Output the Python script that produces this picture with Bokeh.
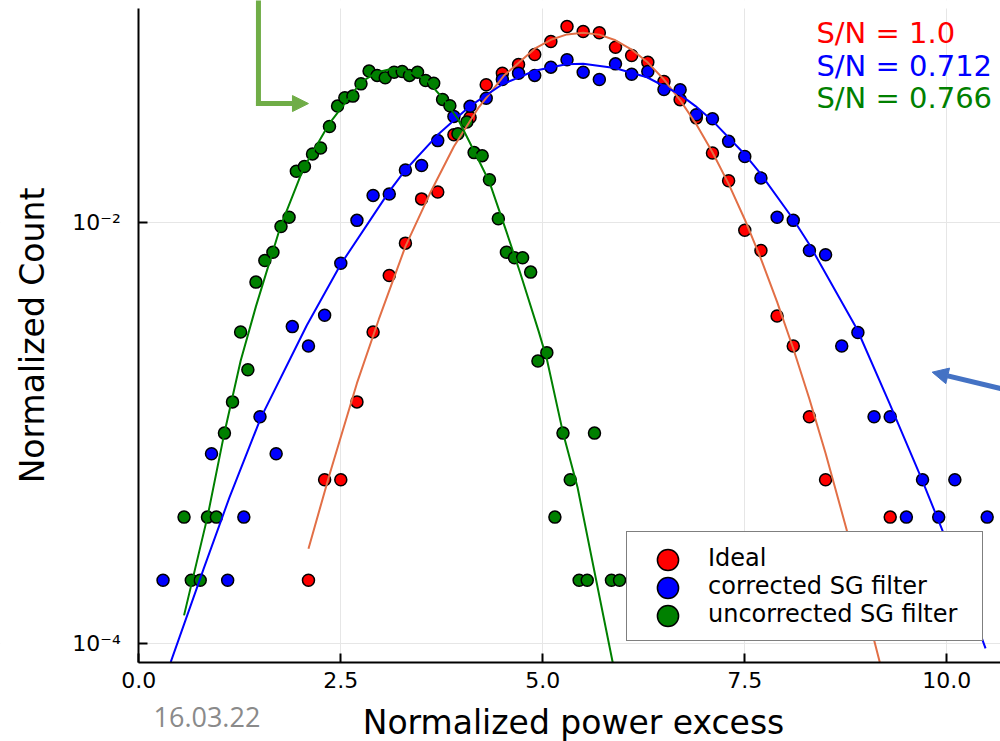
import math
from bokeh.plotting import figure
from bokeh.models import (FixedTicker, CustomJSTickFormatter, NumeralTickFormatter,
                          Legend, LegendItem, Label, Arrow, NormalHead, Range1d, BoxAnnotation)
from bokeh.embed import file_html
from bokeh.resources import INLINE

# ---------------- data ----------------
ideal_x = [2.1, 2.3, 2.5, 2.7, 2.9, 3.1, 3.3, 3.5, 3.7, 3.9, 4.1, 4.3, 4.5, 4.7, 4.9, 5.1,
           5.3, 5.5, 5.7, 5.9, 6.1, 6.3, 6.5, 6.7, 6.9, 7.1, 7.3, 7.5, 7.7, 7.9, 8.1, 8.3,
           8.5, 9.3]
ideal_y = [1.99e-4, 5.97e-4, 5.97e-4, 1.40e-3, 3.01e-3, 5.58e-3, 7.95e-3, 1.29e-2, 1.39e-2,
           2.60e-2, 3.14e-2, 4.50e-2, 5.10e-2, 5.61e-2, 6.26e-2, 7.22e-2, 8.51e-2, 8.05e-2,
           7.94e-2, 6.78e-2, 6.19e-2, 5.75e-2, 4.66e-2, 3.82e-2, 3.13e-2, 2.13e-2, 1.574e-2,
           9.16e-3, 7.34e-3, 3.58e-3, 2.58e-3, 1.19e-3, 5.97e-4, 3.97e-4]

corr_x = [0.3, 0.9, 1.1, 1.3, 1.5, 1.7, 1.9, 2.1, 2.3, 2.5, 2.7, 2.9, 3.1, 3.3, 3.5, 3.7, 3.9,
          4.1, 4.3, 4.5, 4.7, 4.9, 5.1, 5.3, 5.5, 5.7, 5.9, 6.1, 6.3, 6.5, 6.7, 6.9, 7.1, 7.3,
          7.5, 7.7, 7.9, 8.1, 8.3, 8.5, 8.7, 8.9, 9.1, 9.3, 9.5, 9.7, 9.9, 10.1, 10.5]
corr_y = [1.99e-4, 7.94e-4, 1.99e-4, 3.97e-4, 1.19e-3, 7.94e-4, 3.19e-3, 2.58e-3, 3.61e-3,
          6.38e-3, 1.02e-2, 1.34e-2, 1.36e-2, 1.77e-2, 1.86e-2, 2.44e-2, 3.18e-2, 3.55e-2,
          3.88e-2, 4.76e-2, 5.10e-2, 4.98e-2, 5.45e-2, 5.91e-2, 5.16e-2, 4.76e-2, 5.65e-2,
          5.04e-2, 5.20e-2, 4.27e-2, 4.26e-2, 3.24e-2, 3.10e-2, 2.42e-2, 2.05e-2, 1.62e-2,
          1.056e-2, 1.02e-2, 7.34e-3, 7.00e-3, 2.58e-3, 2.99e-3, 1.19e-3, 1.19e-3, 3.97e-4,
          5.97e-4, 3.97e-4, 5.97e-4, 3.97e-4]

unc_x = [0.56, 0.65, 0.76, 0.85, 0.96, 1.06, 1.16, 1.26, 1.35, 1.45, 1.56, 1.66, 1.76, 1.86,
         1.95, 2.05, 2.15, 2.25, 2.36, 2.46, 2.55, 2.65, 2.75, 2.85, 2.95, 3.05, 3.16, 3.26,
         3.35, 3.45, 3.55, 3.65, 3.76, 3.85, 3.95, 4.06, 4.15, 4.25, 4.34, 4.45, 4.55, 4.65,
         4.75, 4.85, 4.94, 5.05, 5.15, 5.25, 5.34, 5.45, 5.55, 5.64, 5.85, 5.95]
unc_y = [3.97e-4, 1.99e-4, 1.99e-4, 3.97e-4, 3.97e-4, 9.95e-4, 1.40e-3, 3.01e-3, 1.99e-3,
         5.19e-3, 6.58e-3, 7.20e-3, 9.54e-3, 1.056e-2, 1.746e-2, 1.84e-2, 2.11e-2, 2.25e-2,
         2.85e-2, 3.56e-2, 3.90e-2, 3.97e-2, 4.54e-2, 5.22e-2, 4.98e-2, 4.85e-2, 5.16e-2,
         5.20e-2, 4.98e-2, 5.16e-2, 4.71e-2, 4.57e-2, 3.83e-2, 3.57e-2, 2.63e-2, 2.99e-2,
         2.14e-2, 2.07e-2, 1.59e-2, 1.038e-2, 7.20e-3, 6.77e-3, 6.77e-3, 5.79e-3, 2.19e-3,
         2.40e-3, 3.97e-4, 9.95e-4, 5.97e-4, 1.99e-4, 1.99e-4, 9.95e-4, 1.99e-4, 1.99e-4]

# fitted curves
fit_ideal_x = [2.10, 2.36, 2.70, 2.97, 3.30, 3.60, 3.90, 4.20, 4.52, 4.90, 5.10, 5.30, 5.50,
               5.70, 5.90, 6.10, 6.30, 6.50, 6.70, 6.90, 7.10, 7.30, 7.50, 7.70, 7.90, 8.10,
               8.30, 8.50, 8.76, 9.00, 9.17, 9.29]
fit_ideal_y = [2.81e-4, 6.31e-4, 1.718e-3, 3.45e-3, 7.67e-3, 1.36e-2, 2.29e-2, 3.48e-2, 4.97e-2,
               6.67e-2, 7.35e-2, 7.80e-2, 7.94e-2, 7.78e-2, 7.31e-2, 6.61e-2, 5.73e-2, 4.76e-2,
               3.80e-2, 2.92e-2, 2.15e-2, 1.52e-2, 1.03e-2, 6.70e-3, 4.18e-3, 2.51e-3, 1.445e-3,
               7.98e-4, 3.47e-4, 1.46e-4, 8.13e-5, 5.15e-5]

fit_corr_x = [0.30, 0.395, 0.80, 1.12, 1.51, 2.08, 2.50, 3.10, 3.30, 3.70, 4.10, 4.50, 4.90,
              5.29, 5.50, 5.89, 6.29, 6.69, 6.89, 7.09, 7.49, 7.69, 8.09, 8.29, 8.89, 9.29,
              9.68, 9.94, 10.48]
fit_corr_y = [6.46e-5, 8.13e-5, 2.24e-4, 4.90e-4, 1.175e-3, 3.24e-3, 6.31e-3, 1.40e-2, 1.77e-2,
              2.60e-2, 3.56e-2, 4.52e-2, 5.24e-2, 5.62e-2, 5.65e-2, 5.40e-2, 4.88e-2, 4.06e-2,
              3.56e-2, 3.06e-2, 2.12e-2, 1.71e-2, 1.047e-2, 7.94e-3, 3.10e-3, 1.38e-3, 6.15e-4,
              3.48e-4, 9.44e-5]

fit_unc_x = [0.56, 0.85, 1.06, 1.26, 1.45, 1.75, 2.04, 2.36, 2.75, 2.95, 3.15, 3.26, 3.55,
             3.76, 3.95, 4.23, 4.34, 4.55, 4.72, 4.95, 5.05, 5.25, 5.43, 5.87, 5.95]
fit_unc_y = [1.355e-4, 3.98e-4, 1.00e-3, 2.19e-3, 3.98e-3, 9.44e-3, 1.81e-2, 2.95e-2, 4.62e-2,
             5.16e-2, 5.37e-2, 5.33e-2, 4.79e-2, 3.89e-2, 3.09e-2, 1.89e-2, 1.55e-2, 9.02e-3,
             5.75e-3, 3.02e-3, 2.24e-3, 1.00e-3, 5.50e-4, 7.94e-5, 4.68e-5]

series_labels = ["Ideal", "corrected SG filter", "uncorrected SG filter"]
sn_texts = ["S/N = 1.0", "S/N = 0.712", "S/N = 0.766"]
x_ticks = [0, 2.5, 5, 7.5, 10]
y_ticks = [1e-4, 1e-2]
x_axis_range = (0.0, 10.665)        # visible extent of the x axis
y_axis_range = (8.12e-5, 0.1035)    # visible extent of the y axis

RED, BLUE, GREEN, FIT_RED = "#ff0000", "#0000ff", "#008000", "#e26f46"
FONT = "DejaVu Sans"

# ---------------- figure ----------------
# the frame spans the whole canvas; the axes sit at fixed positions inside it
p = figure(width=1000, height=741, y_axis_type="log",
           x_range=Range1d(-1.7116, 10.665), y_range=Range1d(3.41e-5, 0.1130),
           output_backend="svg", toolbar_location=None,
           min_border_left=0, min_border_right=0, min_border_top=0, min_border_bottom=0)
p.outline_line_color = None
p.background_fill_color = "white"

# scatter
r_red = p.scatter(ideal_x, ideal_y, size=12, fill_color=RED, line_color="black", line_width=1.5)
r_blue = p.scatter(corr_x, corr_y, size=12, fill_color=BLUE, line_color="black", line_width=1.5)
r_green = p.scatter(unc_x, unc_y, size=12, fill_color=GREEN, line_color="black", line_width=1.5)

# fits
p.line(fit_ideal_x, fit_ideal_y, line_color=FIT_RED, line_width=2)
p.line(fit_corr_x, fit_corr_y, line_color=BLUE, line_width=2)
p.line(fit_unc_x, fit_unc_y, line_color=GREEN, line_width=2)

# white masks outside the plotting area (hide grid / curve parts beyond the axes)
masks = [
    BoxAnnotation(left=-10, right=x_axis_range[0], bottom=1e-8, top=10),
    BoxAnnotation(left=-10, right=20, bottom=1e-8, top=y_axis_range[0]),
    BoxAnnotation(left=-10, right=20, bottom=y_axis_range[1], top=10),
]
for m in masks:
    m.level = "glyph"
    m.fill_color = "white"
    m.fill_alpha = 1.0
    m.line_color = None
p.renderers = p.renderers + masks

# axes
for ax in (p.xaxis[0], p.yaxis[0]):
    ax.axis_line_width = 2
    ax.axis_line_color = "black"
    ax.major_tick_line_width = 2
    ax.major_tick_line_color = "black"
    ax.major_tick_in = 9
    ax.major_tick_out = 0
    ax.minor_tick_line_color = None
    ax.major_label_text_font = FONT
    ax.major_label_text_font_size = "22px"
    ax.major_label_text_color = "black"

p.xaxis.fixed_location = y_axis_range[0]
p.xaxis.bounds = x_axis_range
p.xaxis.ticker = FixedTicker(ticks=x_ticks, minor_ticks=[])
p.xaxis.formatter = NumeralTickFormatter(format="0.0")
p.xaxis.major_label_standoff = 10

p.yaxis.fixed_location = x_axis_range[0]
p.yaxis.bounds = y_axis_range
p.yaxis.ticker = FixedTicker(ticks=y_ticks, minor_ticks=[])
p.yaxis.formatter = CustomJSTickFormatter(code="""
const e = Math.round(Math.log10(tick));
const m = {"-":"\u207b","0":"\u2070","1":"\u00b9","2":"\u00b2","3":"\u00b3","4":"\u2074",
           "5":"\u2075","6":"\u2076","7":"\u2077","8":"\u2078","9":"\u2079"};
return "10" + String(e).split("").map(c => m[c]).join("");
""")
p.yaxis.major_label_standoff = 18

p.xgrid.grid_line_color = "#e6e6e6"
p.ygrid.grid_line_color = "#e6e6e6"
p.xgrid.grid_line_width = 1
p.ygrid.grid_line_width = 1

# axis titles and slide footer (canvas pixels, y from top)
p.add_layout(Label(x=573, y=722, x_units="canvas", y_units="canvas",
                   text="Normalized power excess", text_align="center", text_baseline="middle",
                   text_color="black", text_font=FONT, text_font_size="33px"))
p.add_layout(Label(x=31.5, y=335, x_units="canvas", y_units="canvas",
                   text="Normalized Count", text_align="center", text_baseline="middle",
                   angle=math.pi / 2, text_color="black", text_font=FONT, text_font_size="33px"))
p.add_layout(Label(x=153, y=716, x_units="canvas", y_units="canvas", text="16.03.22",
                   text_align="left", text_baseline="middle",
                   text_color="#8a8a8a", text_font="Open Sans", text_font_size="27px"))

# legend: labelled box (glyphs drawn small, covered by the large ones below)
renderers = [r_red, r_blue, r_green]
legend = Legend(items=[LegendItem(label=lab, renderers=[r]) for lab, r in zip(series_labels, renderers)],
                location=(626, 100), orientation="vertical",
                border_line_color="black", border_line_width=1.5,
                background_fill_color="white", background_fill_alpha=1.0,
                padding=12, spacing=0, margin=0,
                glyph_height=28, glyph_width=58, label_height=28, label_width=262,
                label_standoff=11, label_text_font=FONT, label_text_font_size="24px",
                label_text_color="black")
p.add_layout(legend)
# larger legend markers, one per row
for r, yloc in zip(renderers, [155, 127, 99]):
    p.add_layout(Legend(items=[LegendItem(label="", renderers=[r])], location=(641, yloc),
                        border_line_color=None, background_fill_alpha=0.0,
                        padding=0, spacing=0, margin=0, glyph_height=53, glyph_width=53,
                        label_height=53, label_width=0, label_standoff=0,
                        label_text_font_size="1px"))

# S/N annotations
for txt, col, yv in zip(sn_texts, [RED, BLUE, GREEN], [0.0790, 0.0552, 0.0388]):
    p.add_layout(Label(x=8.387, y=yv, text=txt, text_color=col, text_font=FONT,
                       text_font_size="29px", text_baseline="alphabetic"))

# slide arrows
GARROW, BARROW = "#70ad47", "#4472c4"
p.add_layout(Arrow(start=None, end=None, x_start=1.481, y_start=0.13, x_end=1.481, y_end=0.0356,
                   line_color=GARROW, line_width=5))
p.add_layout(Arrow(end=NormalHead(size=16, fill_color=GARROW, line_color=GARROW, line_width=1),
                   x_start=1.45, y_start=0.0366, x_end=2.10, y_end=0.0366,
                   line_color=GARROW, line_width=5))
p.add_layout(Arrow(end=NormalHead(size=16, fill_color=BARROW, line_color=BARROW, line_width=1),
                   x_start=10.665, y_start=1.62e-3, x_end=9.819, y_end=1.938e-3,
                   line_color=BARROW, line_width=5))

open("out.html", "w").write(file_html(p, INLINE))
